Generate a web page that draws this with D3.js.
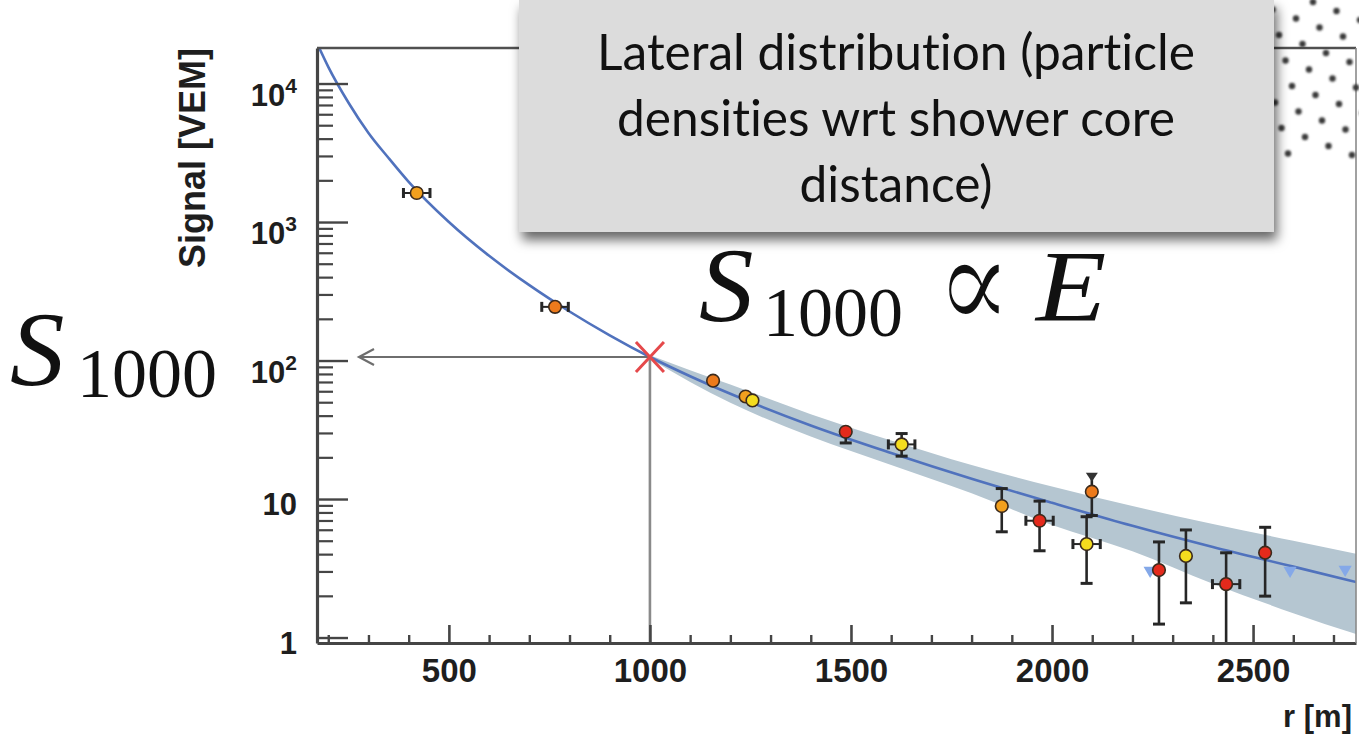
<!DOCTYPE html>
<html><head><meta charset="utf-8">
<script src="https://cdn.jsdelivr.net/npm/d3@7"></script>
<style>
html,body{margin:0;padding:0;background:#fff;}
svg{display:block;}
.cap{font-variant-ligatures:none;font-feature-settings:"liga" 0,"clig" 0;}
</style></head>
<body>
<svg id="chart" width="1359" height="742"></svg>
<script>
// ---------- data ----------
const xDomain = [172, 2756];          // r [m]
const yDomain = [0.913, 18050];       // Signal [VEM]
const xMajor = [500, 1000, 1500, 2000, 2500];
const xMinor = [200,300,400,600,700,800,900,1100,1200,1300,1400,1600,1700,1800,1900,2100,2200,2300,2400,2600,2700];
const yMajor = [1, 10, 100, 1000, 10000];
const yTickBase = ["1", "10", "10", "10", "10"];
const yTickExp  = ["", "", "2", "3", "4"];
const yMinorMult = [2,3,4,5,6,7,8,9];

// fitted lateral distribution function
const fitR = [177, 200, 250, 300, 350, 400, 500, 600, 700, 800, 900, 1000, 1100, 1200, 1400, 1600, 1800, 2000, 2200, 2400, 2600, 2760];
const fitS = [18200, 13200, 7300, 4400, 2900, 1950, 1000, 570, 350, 226, 152, 106, 77, 57.5, 34, 21.5, 14, 9.4, 6.4, 4.5, 3.25, 2.5];
// uncertainty band
const bandR  = [1000, 1100, 1200, 1400, 1600, 1800, 2000, 2200, 2400, 2600, 2760];
const bandLo = [103, 70, 49.5, 28.3, 17.6, 11, 6.5, 4.2, 2.45, 1.5, 1.05];
const bandHi = [109, 85, 67, 41, 26.5, 17.6, 12.3, 8.9, 6.6, 5.0, 4.0];

// stations
const ptR    = [420, 764, 1157, 1238, 1255, 1487, 1626, 1875, 1969, 2099, 2086, 2266, 2333, 2433, 2530];
const ptS    = [1620, 244, 71.5, 55, 51.5, 30.6, 24.8, 8.9, 6.97, 11.3, 4.73, 3.07, 3.88, 2.43, 4.10];
const ptLo   = [1620, 244, 71.5, 55, 51.5, 25.4, 20.4, 5.8, 4.23, 7.6, 2.46, 1.25, 1.78, 0.5, 1.99];
const ptHi   = [1620, 244, 71.5, 55, 51.5, 33.0, 29.7, 11.9, 9.66, 14.5, 7.45, 4.9, 5.98, 4.09, 6.25];
const ptRErr = [33, 33, 0, 0, 0, 0, 33, 0, 34, 0, 34, 0, 0, 34, 0];
const ptGroup = ["A", "O", "O", "A", "Y", "R", "Y", "A", "R", "O", "Y", "R", "Y", "R", "R"];
const ptUpperArrow = [0,0,0,0,0,0,0,0,0,1,0,0,0,0,0];
// silent stations (triangles)
const silentR = [2244, 2592, 2729];
const silentS = [3.05, 3.05, 3.1];
// reference point
const refR = 1000;
const refS = 106;

const captionLines = ["Lateral distribution (particle", "densities wrt shower core", "distance)"];

// ---------- drawing ----------
const svg = d3.select("#chart");
const W = 1359, H = 742;
const P = {l: 317, r: 1356, t: 48, b: 643};
const x = d3.scaleLinear().domain(xDomain).range([P.l, P.r]);
const y = d3.scaleLog().domain(yDomain).range([P.b, P.t]);
const groupColor = d3.scaleOrdinal().domain(["Y","A","O","R"]).range(["#f4dc1e", "#f2a01e", "#ec7a1c", "#e42a1c"]);

const defs = svg.append("defs");
defs.append("clipPath").attr("id","plotclip").append("rect")
  .attr("x", P.l).attr("y", P.t).attr("width", P.r - P.l).attr("height", P.b - P.t);
const f = defs.append("filter").attr("id","boxshadow").attr("x","-5%").attr("y","-10%").attr("width","112%").attr("height","130%");
f.append("feDropShadow").attr("dx",3).attr("dy",8).attr("stdDeviation",6).attr("flood-color","#000").attr("flood-opacity",0.6);
const fb = defs.append("filter").attr("id","soft").attr("x","-50%").attr("y","-50%").attr("width","200%").attr("height","200%");
fb.append("feGaussianBlur").attr("stdDeviation",0.9);

svg.append("rect").attr("width",W).attr("height",H).attr("fill","#fff");

const g = svg.append("g").attr("clip-path","url(#plotclip)");

// band
const bandData = bandR.map((r,i)=>({r, lo: bandLo[i], hi: bandHi[i]}));
g.append("path").datum(bandData)
  .attr("d", d3.area().x(d=>x(d.r)).y0(d=>y(d.lo)).y1(d=>y(d.hi)).curve(d3.curveMonotoneX))
  .attr("fill","#b5c6d1");

// fit line
const fitData = fitR.map((r,i)=>({r, s: fitS[i]}));
g.append("path").datum(fitData)
  .attr("d", d3.line().x(d=>x(d.r)).y(d=>y(d.s)).curve(d3.curveMonotoneX))
  .attr("fill","none").attr("stroke","#5072bd").attr("stroke-width",2.6);

// silent stations
g.selectAll(".silent").data(silentR.map((r,i)=>({r, s: silentS[i]}))).enter()
  .append("path")
  .attr("d", d3.symbol(d3.symbolTriangle, 75))
  .attr("transform", d=>`translate(${x(d.r)},${y(d.s)}) rotate(180)`)
  .attr("fill","#84a8e8");

// reference arrow lines
const rx = x(refR), ry = y(refS);
g.append("line").attr("x1", rx).attr("x2", rx).attr("y1", ry).attr("y2", P.b)
  .attr("stroke","#8a8a8a").attr("stroke-width",2.6);
svg.append("line").attr("x1", P.l + 42).attr("x2", rx).attr("y1", ry).attr("y2", ry)
  .attr("stroke","#6e6e6e").attr("stroke-width",2.2);
svg.append("path")
  .attr("d", `M${P.l+57},${ry-8}L${P.l+42},${ry}L${P.l+57},${ry+8}`)
  .attr("fill","none").attr("stroke","#6e6e6e").attr("stroke-width",2.2);

// stations: error bars + markers
const pts = ptR.map((r,i)=>({r, s: ptS[i], lo: ptLo[i], hi: ptHi[i], re: ptRErr[i], grp: ptGroup[i], arrow: ptUpperArrow[i]}));
const eb = g.append("g").attr("stroke","#262626");
pts.forEach(d=>{
  const cx = x(d.r), cy = y(d.s), yl = y(d.lo), yh = y(d.hi);
  if (yl - cy > 7) {
    eb.append("line").attr("x1",cx).attr("x2",cx).attr("y1",cy).attr("y2",yl).attr("stroke-width",2.6);
    eb.append("line").attr("x1",cx-6).attr("x2",cx+6).attr("y1",yl).attr("y2",yl).attr("stroke-width",3);
  }
  if (cy - yh > 7) {
    eb.append("line").attr("x1",cx).attr("x2",cx).attr("y1",cy).attr("y2",yh).attr("stroke-width",2.6);
    if (d.arrow) {
      eb.append("path").attr("d",`M${cx-6},${yh-4}L${cx+6},${yh-4}L${cx},${yh+5}Z`).attr("fill","#333").attr("stroke","none");
    } else {
      eb.append("line").attr("x1",cx-6).attr("x2",cx+6).attr("y1",yh).attr("y2",yh).attr("stroke-width",3);
    }
  }
  if (d.re > 0) {
    const xl = x(d.r - d.re), xr = x(d.r + d.re);
    eb.append("line").attr("x1",xl).attr("x2",xr).attr("y1",cy).attr("y2",cy).attr("stroke-width",2);
    eb.append("line").attr("x1",xl).attr("x2",xl).attr("y1",cy-5).attr("y2",cy+5).attr("stroke-width",3);
    eb.append("line").attr("x1",xr).attr("x2",xr).attr("y1",cy-5).attr("y2",cy+5).attr("stroke-width",3);
  }
});
g.selectAll(".pt").data(pts).enter().append("circle")
  .attr("cx", d=>x(d.r)).attr("cy", d=>y(d.s)).attr("r", 6.3)
  .attr("fill", d=>groupColor(d.grp)).attr("stroke","#3b2a1c").attr("stroke-width",1.6);

// red cross at reference
svg.append("path")
  .attr("d", `M${rx-14},${ry-15}L${rx+14},${ry+15}M${rx+14},${ry-15}L${rx-14},${ry+15}`)
  .attr("stroke","#e5494b").attr("stroke-width",3).attr("fill","none");

// ---------- axes ----------
const axisCol = "#454545";
const sansB = "'Liberation Sans', Arial, Helvetica, sans-serif";
const xAx = svg.append("g").attr("transform",`translate(0,${P.b})`)
  .call(d3.axisBottom(x).tickValues(xMajor).tickSize(-18).tickSizeOuter(0).tickPadding(16).tickFormat(d3.format("d")));
xAx.select(".domain").attr("stroke",axisCol).attr("stroke-width",3.2);
xAx.selectAll(".tick line").attr("stroke",axisCol).attr("stroke-width",2.6);
xAx.selectAll(".tick text").attr("font-family",sansB).attr("font-weight","bold").attr("font-size",33).attr("fill","#1e1e1e");
svg.append("g").attr("transform",`translate(0,${P.b})`)
  .call(d3.axisBottom(x).tickValues(xMinor).tickSize(-8).tickFormat(""))
  .call(s=>{ s.select(".domain").remove(); s.selectAll(".tick line").attr("stroke",axisCol).attr("stroke-width",2.4); });

const yAx = svg.append("g").attr("transform",`translate(${P.l},0)`)
  .call(d3.axisLeft(y).tickValues(yMajor).tickSize(-31).tickSizeOuter(0).tickFormat(""));
yAx.select(".domain").attr("stroke",axisCol).attr("stroke-width",3.2);
yAx.selectAll(".tick line").attr("stroke",axisCol).attr("stroke-width",2.4);
const yMinor = [];
yMajor.forEach(v=>yMinorMult.forEach(m=>{ const t = v*m; if (t < yDomain[1]) yMinor.push(t); }));
svg.append("g").attr("transform",`translate(${P.l},0)`)
  .call(d3.axisLeft(y).tickValues(yMinor).tickSize(-16).tickFormat(""))
  .call(s=>{ s.select(".domain").remove(); s.selectAll(".tick line").attr("stroke",axisCol).attr("stroke-width",2.2); });

// y tick labels
yMajor.forEach((v,i)=>{
  const t = svg.append("text").attr("x", 297).attr("y", y(v) + (yTickExp[i] ? 22 : 16))
    .attr("text-anchor","end").attr("font-family",sansB).attr("font-weight","bold")
    .attr("font-size",31).attr("fill","#1e1e1e");
  t.append("tspan").text(yTickBase[i]);
  if (yTickExp[i]) t.append("tspan").attr("font-size",21).attr("dy",-13).text(yTickExp[i]);
});

// frame top & right
svg.append("line").attr("x1",P.l).attr("x2",P.r).attr("y1",P.t).attr("y2",P.t).attr("stroke","#505050").attr("stroke-width",2.4);
svg.append("line").attr("x1",P.r).attr("x2",P.r).attr("y1",P.t).attr("y2",P.b).attr("stroke","#8a8a8a").attr("stroke-width",1.6);

// axis titles
svg.append("text").attr("transform","translate(205,158) rotate(-90)").attr("text-anchor","middle")
  .attr("font-family",sansB).attr("font-weight","bold").attr("font-size",36).attr("fill","#1e1e1e")
  .text("Signal [VEM]");
svg.append("text").attr("x",1352).attr("y",727).attr("text-anchor","end")
  .attr("font-family",sansB).attr("font-weight","bold").attr("font-size",31).attr("fill","#1e1e1e")
  .text("r [m]");

// ---------- math annotations ----------
const serif = "'Liberation Serif', 'DejaVu Serif', 'Times New Roman', serif";
function s1000(xs, ys, xsub, ysub) {
  svg.append("text").attr("transform",`translate(${xs},${ys}) scale(1.08,1.04)`).attr("font-family",serif).attr("font-style","italic")
    .attr("font-size",101).attr("fill","#111").text("S");
  svg.append("text").attr("x",xsub).attr("y",ysub).attr("font-family",serif)
    .attr("font-size",70).attr("fill","#111").text("1000");
}
s1000(10, 385, 77, 397);
s1000(699, 321, 763, 336);
svg.append("text").attr("transform","translate(974,330) scale(0.8,0.97)").attr("text-anchor","middle")
  .attr("font-family","'DejaVu Serif', serif").attr("font-size",140).attr("fill","#111")
  .attr("stroke","#fff").attr("stroke-width",2.5).text("\u221D");
svg.append("text").attr("transform","translate(1036,321) scale(1.14,1)").attr("font-family",serif).attr("font-style","italic")
  .attr("font-size",101).attr("fill","#111").text("E");

// ---------- decorative dotted corner ----------
const dots = [];
for (let i=-6;i<=8;i++) for (let j=-4;j<=12;j++) {
  const px = 1313 + 23.5*i - 17*j, py = 2 + 9*i + 16.5*j;
  if (px > 1272 && px < 1366 && py > -6 && py < 160) dots.push([px,py]);
}
svg.append("g").attr("filter","url(#soft)").selectAll("circle").data(dots).enter().append("circle")
  .attr("cx",d=>d[0]).attr("cy",d=>d[1]).attr("r",3.2).attr("fill","#3a3a3a");

// ---------- caption box ----------
svg.append("rect").attr("x",519).attr("y",0).attr("width",755).attr("height",232)
  .attr("fill","#dcdcdc").attr("filter","url(#boxshadow)");
const cap = svg.append("g");
const capTexts = captionLines.map((s,i)=> cap.append("text").attr("class","cap").attr("x", 896).attr("y", 70 + i*66)
  .attr("text-anchor","middle").attr("font-family","Lato, 'Open Sans', 'Noto Sans', sans-serif")
  .attr("font-size",44).attr("fill","#111").text(s));
const w0 = capTexts[0].node().getComputedTextLength();
if (w0 > 0) {
  const fs = 44 * 598 / w0;
  capTexts.forEach(t=>t.attr("font-size", fs));
}
</script>
</body></html>
